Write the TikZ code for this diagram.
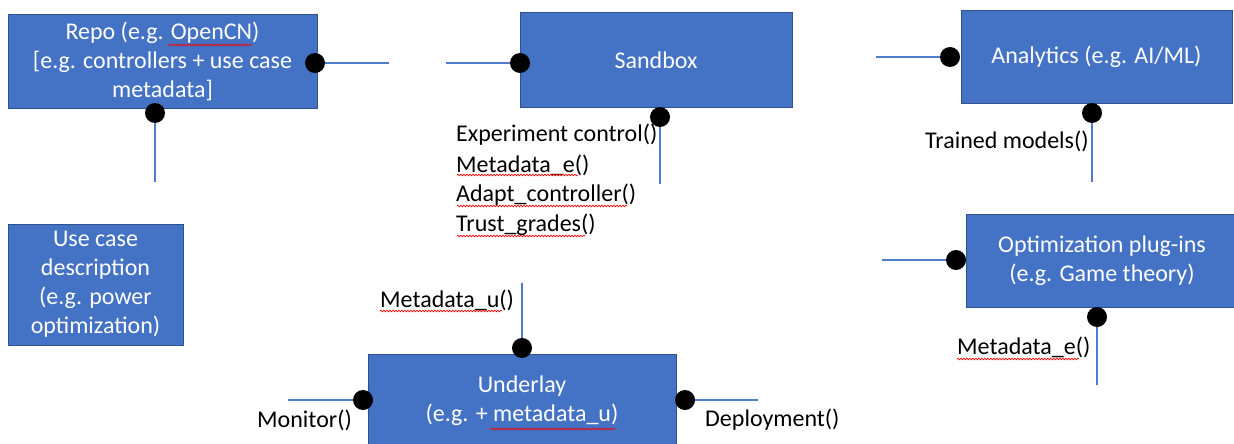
\documentclass[tikz,border=0pt]{standalone}
\usepackage{fontspec}
\setmainfont{Carlito}
\usetikzlibrary{decorations.pathmorphing}
\definecolor{boxblue}{HTML}{4472C4}
\definecolor{boxedge}{HTML}{2F528F}
\definecolor{linkblue}{HTML}{4F7BCB}
\begin{document}
\begin{tikzpicture}[x=1pt,y=-1pt,
  font=\fontsize{24}{29}\selectfont,
  box/.style={draw=boxedge, fill=boxblue, text=white, line width=1pt, align=center, inner sep=0pt},
  dot/.style={circle, fill=black, minimum size=20pt, inner sep=0pt},
  conn/.style={draw=linkblue, line width=1.3pt},
  lbl/.style={text=black, inner sep=0pt, anchor=west},
  squig/.style={draw=red, line width=0.7pt, decorate, decoration={snake, segment length=3pt, amplitude=0.8pt}}]
\useasboundingbox (0,0) rectangle (1234,444);
% boxes
\node[box, minimum width=309pt, minimum height=93pt] (repo) at (162.5,61.5) {Repo (e.g. OpenCN)\\ {[}e.g. controllers + use case\\ metadata{]}};
\node[box, minimum width=272pt, minimum height=94pt] (sandbox) at (656,60) {Sandbox};
\node[box, minimum width=271pt, minimum height=93pt] (analytics) at (1096.5,57) {Analytics (e.g. AI/ML)};
\node[box, minimum width=175pt, minimum height=121pt] (usecase) at (95.5,284.5) {Use case\\ description\\ (e.g. power\\ optimization)};
\node[box, minimum width=272pt, minimum height=93pt] (optim) at (1102,260.5) {Optimization plug-ins\\ (e.g. Game theory)};
\node[box, minimum width=308pt, minimum height=94pt] (underlay) at (522,401) {Underlay\\ (e.g. + metadata\_u)};
% dots
\node[dot] (repoR) at (315,63) {};
\node[dot] (repoB) at (155,113) {};
\node[dot] (sandL) at (520,63) {};
\node[dot] (sandB) at (660,117) {};
\node[dot] (anaL) at (950,57) {};
\node[dot] (anaB) at (1092,113) {};
\node[dot] (optL) at (956,260) {};
\node[dot] (optB) at (1097,317) {};
\node[dot] (undT) at (522,348) {};
\node[dot] (undL) at (363,400) {};
\node[dot] (undR) at (685,400) {};
% free ends
\coordinate (repoRend) at (389,63);
\coordinate (repoBend) at (155,182);
\coordinate (sandLend) at (446,63);
\coordinate (sandBend) at (660,184);
\coordinate (anaLend) at (876,57);
\coordinate (anaBend) at (1092,182);
\coordinate (optLend) at (882,260);
\coordinate (optBend) at (1097,385);
\coordinate (undTend) at (522,283);
\coordinate (undLend) at (288,400);
\coordinate (undRend) at (758,400);
% connectors
\draw[conn] (repoR) -- (repoRend);
\draw[conn] (repoB) -- (repoBend);
\draw[conn] (sandL) -- (sandLend);
\draw[conn] (sandB) -- (sandBend);
\draw[conn] (anaL) -- (anaLend);
\draw[conn] (anaB) -- (anaBend);
\draw[conn] (optL) -- (optLend);
\draw[conn] (optB) -- (optBend);
\draw[conn] (undT) -- (undTend);
\draw[conn] (undL) -- (undLend);
\draw[conn] (undR) -- (undRend);
% labels
\node[lbl] (l1) at (456,135) {Experiment control()};
\node[lbl] (l2) at (456,165) {Metadata\_e()};
\node[lbl] (l3) at (456,195) {Adapt\_controller()};
\node[lbl] (l4) at (456,225) {Trust\_grades()};
\node[lbl] (l5) at (925,141) {Trained models()};
\node[lbl] (l6) at (380,300) {Metadata\_u()};
\node[lbl] (l7) at (257,420) {Monitor()};
\node[lbl] (l8) at (705,420) {Deployment()};
\node[lbl] (l9) at (957,347) {Metadata\_e()};
% spell-check squiggles
\draw[squig] (168,45) -- (252,45);
\draw[squig] (457,175) -- (578,175);
\draw[squig] (457,206) -- (627,206);
\draw[squig] (457,236) -- (585,236);
\draw[squig] (380,311) -- (502,311);
\draw[squig] (490,429) -- (615,429);
\draw[squig] (957,359) -- (1079,359);
\end{tikzpicture}
\end{document}
